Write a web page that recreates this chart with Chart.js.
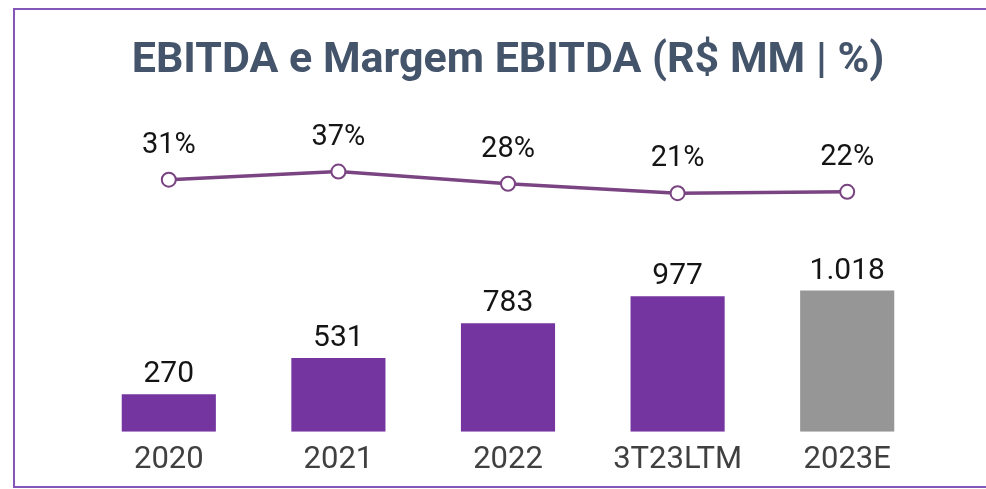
<!DOCTYPE html>
<html>
<head>
<meta charset="utf-8">
<script src="https://cdn.jsdelivr.net/npm/chart.js@4.4.1/dist/chart.umd.min.js"></script>
<style>
  html, body { margin: 0; padding: 0; background: #ffffff; }
  #wrap { width: 986px; height: 489px; position: relative; }
</style>
</head>
<body>
<div id="wrap"><canvas id="chart" width="986" height="489"></canvas></div>
<script>
// EBITDA (R$ MM) and EBITDA margin (%)
const categories = ['2020', '2021', '2022', '3T23LTM', '2023E'];
const ebitda = [270, 531, 783, 977, 1018];
const ebitdaLabels = ['270', '531', '783', '977', '1.018'];
const margin = [31, 37, 28, 21, 22];
const marginLabels = ['31%', '37%', '28%', '21%', '22%'];
const barColors = ['#7535A0', '#7535A0', '#7535A0', '#7535A0', '#969696'];

const FONT = 'Roboto, "Liberation Sans", sans-serif';

// Thin purple frame around the panel
const framePlugin = {
  id: 'frame',
  beforeDraw(chart) {
    const ctx = chart.ctx;
    ctx.save();
    ctx.fillStyle = '#ffffff';
    ctx.fillRect(0, 0, chart.width, chart.height);
    ctx.strokeStyle = '#8456B8';
    ctx.lineWidth = 2;
    ctx.strokeRect(14, 9, chart.width + 20, 478);
    ctx.restore();
  }
};

// Value labels above bars and above line points
const valueLabels = {
  id: 'valueLabels',
  afterDatasetsDraw(chart) {
    const ctx = chart.ctx;
    ctx.save();
    ctx.textAlign = 'center';
    ctx.textBaseline = 'alphabetic';
    ctx.fillStyle = '#141414';
    ctx.font = '30px ' + FONT;
    chart.getDatasetMeta(1).data.forEach((el, i) => {
      ctx.fillText(ebitdaLabels[i], el.x, el.y - 12);
    });
    ctx.font = '29px ' + FONT;
    chart.getDatasetMeta(0).data.forEach((el, i) => {
      ctx.fillText(marginLabels[i], el.x, el.y - 27);
    });
    ctx.restore();
  }
};

new Chart(document.getElementById('chart'), {
  data: {
    labels: categories,
    datasets: [
      {
        type: 'line',
        label: 'Margem EBITDA',
        data: margin,
        yAxisID: 'yLine',
        borderColor: '#7A4482',
        borderWidth: 3.5,
        pointRadius: 7,
        pointBorderWidth: 2,
        pointBackgroundColor: '#ffffff',
        pointBorderColor: '#7A4482',
        tension: 0,
        order: 0
      },
      {
        type: 'bar',
        label: 'EBITDA',
        data: ebitda,
        yAxisID: 'yBar',
        backgroundColor: barColors,
        borderWidth: 0,
        categoryPercentage: 1,
        barPercentage: 0.555,
        order: 1
      }
    ]
  },
  options: {
    responsive: false,
    animation: false,
    layout: { padding: { left: 84, right: 54, top: 0, bottom: 0 } },
    plugins: {
      legend: { display: false },
      tooltip: { enabled: false },
      title: {
        display: true,
        text: 'EBITDA e Margem EBITDA (R$ MM | %)',
        color: '#44546A',
        font: { family: FONT, size: 43, weight: 'bold', lineHeight: 1.2 },
        padding: { top: 35, bottom: 26 }
      }
    },
    scales: {
      x: {
        grid: { display: false, drawTicks: false },
        border: { display: false },
        ticks: {
          color: '#404040',
          font: { family: FONT, size: 31, lineHeight: 1.2 },
          padding: 10,
          maxRotation: 0
        }
      },
      yBar: {
        display: false,
        min: 0,
        max: 2300
      },
      yLine: {
        display: false,
        min: -155.4,
        max: 80.6
      }
    }
  },
  plugins: [framePlugin, valueLabels]
});
</script>
</body>
</html>
